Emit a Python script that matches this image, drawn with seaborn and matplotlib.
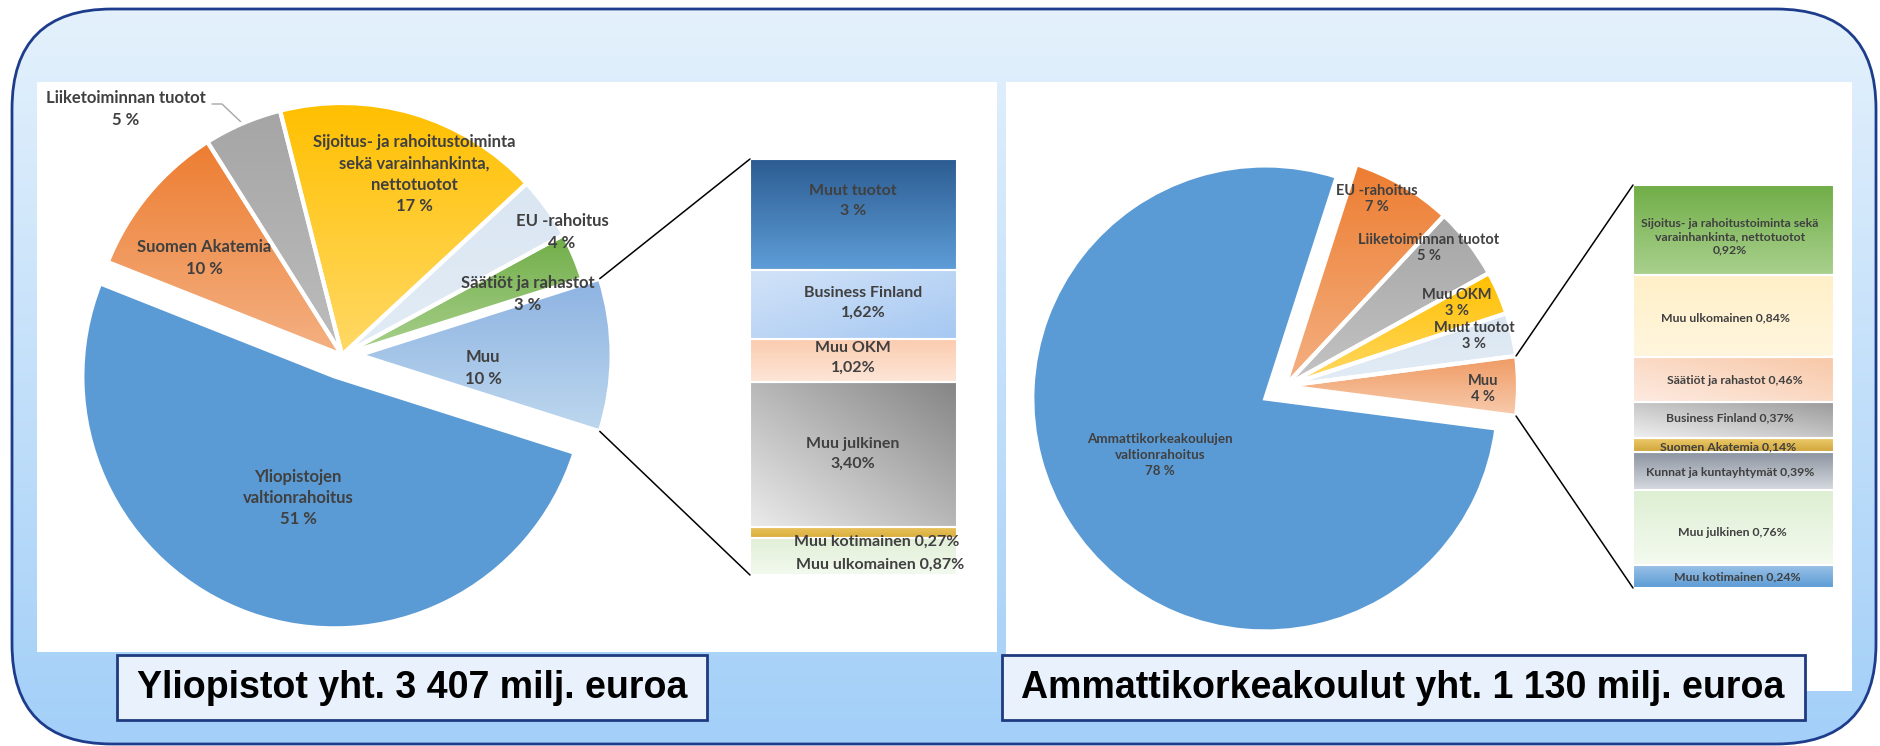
import matplotlib
matplotlib.use('Agg')
import matplotlib.pyplot as plt
import seaborn as sns
import numpy as np
from matplotlib.patches import FancyBboxPatch, Rectangle, ConnectionPatch

# ---- data ----
left_bar_names = ['Muut tuotot', 'Business Finland', 'Muu OKM', 'Muu julkinen',
                  'Muu kotimainen', 'Muu ulkomainen']
left_bar_values = [2.6, 1.62, 1.02, 3.40, 0.27, 0.87]

left_pie_names = ['Muu', 'Säätiöt ja rahastot', 'EU -rahoitus',
                  'Sijoitus- ja rahoitustoiminta\nsekä varainhankinta,\nnettotuotot',
                  'Liiketoiminnan tuotot', 'Suomen Akatemia',
                  'Yliopistojen\nvaltionrahoitus']
left_pie_values = [sum(left_bar_values), 3, 4, 17, 5, 10, 51]

right_bar_names = ['Sijoitus- ja rahoitustoiminta sekä\nvarainhankinta, nettotuotot',
                   'Muu ulkomainen', 'Säätiöt ja rahastot', 'Business Finland',
                   'Suomen Akatemia', 'Kunnat ja kuntayhtymät', 'Muu julkinen',
                   'Muu kotimainen']
right_bar_values = [0.92, 0.84, 0.46, 0.37, 0.14, 0.39, 0.76, 0.24]

right_pie_names = ['Muu', 'Muut tuotot', 'Muu OKM', 'Liiketoiminnan tuotot',
                   'EU -rahoitus', 'Ammattikorkeakoulujen\nvaltionrahoitus']
right_pie_values = [sum(right_bar_values), 3, 3, 5, 7, 78]

titles = ['Yliopistot yht. 3 407 milj. euroa',
          'Ammattikorkeakoulut yht. 1 130 milj. euroa']

# ---- styles ----
left_pie_colors = [('#8DB3E2', '#BDD7EE'), ('#70AD47', '#A9D18E'), ('#DAE6F2', '#E2ECF6'),
                   ('#FFC000', '#FFD966'), ('#A5A5A5', '#BDBDBD'), ('#ED7D31', '#F4B183'),
                   ('#5B9BD5', '#5B9BD5')]
left_pie_explode = [0.07, 0, 0, 0, 0, 0, 0.09]
left_bar_colors = [('#2C5D92', '#5E9DD8', 'v'), ('#D2E3F8', '#A6C8F2', 'd2'),
                   ('#FBCBAE', '#FDE6D8', 'v'), ('#858585', '#EBEBEB', 'd'),
                   ('#E9C460', '#D9AE3A', 'v'), ('#E0EFD6', '#F3F9EF', 'v')]
right_pie_colors = [('#EF9A62', '#F8CBAD'), ('#DAE6F2', '#E2ECF6'), ('#FFC000', '#FFD966'),
                    ('#A5A5A5', '#C4C4C4'), ('#ED7D31', '#F4B183'), ('#5B9BD5', '#5B9BD5')]
right_pie_explode = [0, 0, 0, 0, 0, 0.1]
right_bar_colors = [('#70AD47', '#A9D18E', 'v'), ('#FFF0C8', '#FFF6DE', 'v'),
                    ('#F8C8A8', '#FDEBE1', 'd'), ('#9A9A9A', '#F0F0F0', 'd'),
                    ('#EDCB6A', '#CFA43A', 'v'), ('#8A929E', '#D6DAE0', 'v'),
                    ('#DDEFD2', '#F4FAF0', 'v'), ('#9CC3E8', '#5B9BD5', 'v')]

left_pie_text_pos = [(483, 368), (528, 294), (562, 232), (414, 174), (126, 109),
                     (204, 258), (298, 498)]
left_bar_text_pos = [(853, 201), (863, 303), (853, 358), (853, 454), (877, 542), (880, 565)]
left_bar_sep = ['\n', '\n', '\n', '\n', ' ', ' ']
right_pie_text_pos = [(1483, 389), (1474, 336), (1457, 303), (1429, 248), (1377, 199),
                      (1160, 455)]
right_pie_size = [10.5, 10.5, 10.5, 10.5, 10.5, 9.6]
right_pie_spacing = [1.22, 1.22, 1.22, 1.22, 1.22, 1.42]
right_bar_text_pos = [(1730, 237), (1726, 318), (1735, 381), (1730, 418), (1728, 447),
                      (1730, 473), (1732, 533), (1737, 577)]

W, H = 1881, 746
TXT = '#404040'

sns.set_theme(style='white')
plt.rcParams['font.family'] = ['Lato', 'DejaVu Sans']

fig = plt.figure(figsize=(W / 100, H / 100), dpi=100, facecolor='white')


def px_axes(x0, y0, x1, y1, **kw):
    return fig.add_axes([x0 / W, 1 - y1 / H, (x1 - x0) / W, (y1 - y0) / H], **kw)


def ftext(x, y, s, **kw):
    fig.text(x / W, 1 - y / H, s, ha='center', va='center', **kw)


def grad_fill(ax, patch, extent, c1, c2, mode='v'):
    t = np.linspace(0, 1, 128)
    if mode == 'v':
        arr = np.tile(t[:, None], (1, 2))
    elif mode == 'd':
        arr = (t[:, None] + (1 - t[None, :])) / 2
    else:
        arr = (t[:, None] + t[None, :]) / 2
    cmap = sns.blend_palette([c1, c2], as_cmap=True)
    im = ax.imshow(arr, cmap=cmap, extent=extent, origin='upper', aspect='auto',
                   interpolation='bilinear', vmin=0, vmax=1, zorder=1)
    im.set_clip_path(patch)


def pct(v):
    return f'{v:.0f} %'


def bpct(v):
    return f'{v:.2f}%'.replace('.', ',')


# ---- background ----
bg = fig.add_axes([0, 0, 1, 1], zorder=-5)
bg.set_xlim(0, W)
bg.set_ylim(0, H)
bg.axis('off')
frame = FancyBboxPatch((12, H - 744), 1864, 735, boxstyle='round,pad=0,rounding_size=100',
                       fc='none', ec='#1E3C8C', lw=2, zorder=3)
bg.add_patch(frame)
grad_fill(bg, frame, (12, 1876, H - 744, H - 9), '#E4F1FC', '#A3CFF8')
bg.add_patch(Rectangle((37, H - 652), 960, 570, fc='white', ec='none', zorder=4))
bg.add_patch(Rectangle((1006, H - 691), 846, 609, fc='white', ec='none', zorder=4))
for (x0, x1) in [(117, 707), (1002, 1805)]:
    bg.add_patch(Rectangle((x0, H - 720), x1 - x0, 65, fc='#E8F1FC', ec='#1F3B7F',
                           lw=2, zorder=6))
bg.set_xlim(0, W)
bg.set_ylim(0, H)
ftext(412, 688, titles[0], family='Liberation Sans', weight='bold', size=27, color='black')
ftext(1403, 688, titles[1], family='Liberation Sans', weight='bold', size=27, color='black')


def draw_pie(cx, cy, r, values, colors, explode):
    half = 1.25 * r
    ax = px_axes(cx - half, cy - half, cx + half, cy + half)
    start = -values[0] / sum(values) * 360 / 2
    wedges, _ = ax.pie(values, explode=explode, startangle=start, counterclock=True,
                       wedgeprops=dict(fc='none', ec='white', lw=3, zorder=3))
    for w, (c1, c2) in zip(wedges, colors):
        ext = w.get_path().get_extents()
        grad_fill(ax, w, (ext.x0, ext.x1, ext.y0, ext.y1), c1, c2)
    ax.set_xlim(-1.25, 1.25)
    ax.set_ylim(-1.25, 1.25)
    ax.set_aspect('equal')
    ax.axis('off')
    return ax, wedges


def draw_bar(x0, y0, x1, y1, values, colors):
    ax = px_axes(x0, y0, x1, y1)
    bottoms = np.concatenate([[0], np.cumsum(values)[:-1]])
    bars = ax.bar(np.zeros(len(values)), values, bottom=bottoms, width=1.0,
                  fc='none', ec='white', lw=1.5, zorder=3)
    for b, (c1, c2, mode) in zip(bars, colors):
        x, y, w, h = b.get_x(), b.get_y(), b.get_width(), b.get_height()
        grad_fill(ax, b, (x, x + w, y + h, y), c1, c2, mode)
    ax.set_xlim(-0.5, 0.5)
    ax.set_ylim(sum(values), 0)
    ax.axis('off')
    return ax


def connect(ax_pie, wedge, ax_bar, total):
    for th, yb in [(wedge.theta2, 0), (wedge.theta1, total)]:
        p = (wedge.center[0] + wedge.r * np.cos(np.radians(th)),
             wedge.center[1] + wedge.r * np.sin(np.radians(th)))
        con = ConnectionPatch(xyA=p, coordsA=ax_pie.transData, xyB=(-0.5, yb),
                              coordsB=ax_bar.transData, color='black', lw=1.1)
        fig.add_artist(con)


# ---- left chart ----
axL, wL = draw_pie(342, 355, 252, left_pie_values, left_pie_colors, left_pie_explode)
barL = draw_bar(750, 159, 957, 575, left_bar_values, left_bar_colors)
connect(axL, wL[0], barL, sum(left_bar_values))

for name, v, (x, y) in zip(left_pie_names, left_pie_values, left_pie_text_pos):
    ftext(x, y, f'{name}\n{pct(v)}', size=12, weight='bold', color=TXT, linespacing=1.4)
# leader line for the outside label
wl = wL[4]
mid = np.radians((wl.theta1 + wl.theta2) / 2)
tip = axL.transData.transform((wl.center[0] + wl.r * np.cos(mid), wl.center[1] + wl.r * np.sin(mid)))
bg.plot([212, 222, tip[0]], [H - 104, H - 104, tip[1]], color='#A6A6A6', lw=1, zorder=5)

for i, (name, v, (x, y)) in enumerate(zip(left_bar_names, left_bar_values, left_bar_text_pos)):
    s = pct(v) if i == 0 else bpct(v)
    ftext(x, y, f'{name}{left_bar_sep[i]}{s}', size=11.5, weight='bold', color=TXT,
          linespacing=1.48)

# ---- right chart ----
axR, wR = draw_pie(1285, 386, 233, right_pie_values, right_pie_colors, right_pie_explode)
barR = draw_bar(1633, 185, 1834, 588, right_bar_values, right_bar_colors)
connect(axR, wR[0], barR, sum(right_bar_values))

for name, v, (x, y), fs, ls in zip(right_pie_names, right_pie_values, right_pie_text_pos,
                                   right_pie_size, right_pie_spacing):
    ftext(x, y, f'{name}\n{pct(v)}', size=fs, weight='bold', color=TXT, linespacing=ls)

for i, (name, v, (x, y)) in enumerate(zip(right_bar_names, right_bar_values, right_bar_text_pos)):
    sep = '\n' if i == 0 else ' '
    ftext(x, y, f'{name}{sep}{bpct(v)}', size=8.8, weight='bold', color=TXT, linespacing=1.24)

fig.savefig('out.png', dpi=100, facecolor='white')
